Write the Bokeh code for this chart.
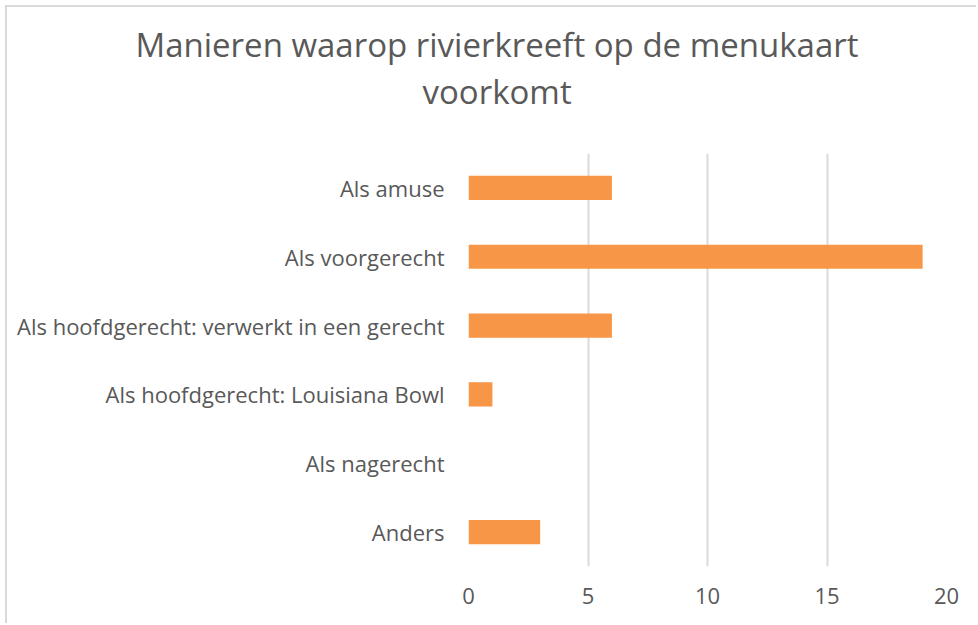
from bokeh.plotting import figure
from bokeh.models import Title, FactorRange, Range1d, FixedTicker
from bokeh.embed import file_html
from bokeh.resources import INLINE

categories = ["Als amuse", "Als voorgerecht", "Als hoofdgerecht: verwerkt in een gerecht",
              "Als hoofdgerecht: Louisiana Bowl", "Als nagerecht", "Anders"]
values = [6, 19, 6, 1, 0, 3]
x_ticks = [0, 5, 10, 15, 20]
title_lines = ["Manieren waarop rivierkreeft op de menukaart", "voorkomt"]

FONT = "Open Sans"
GRAY = "#595959"

p = figure(width=971, height=618, output_backend="svg", toolbar_location=None,
           y_range=FactorRange(factors=list(reversed(categories)), range_padding=0),
           x_range=Range1d(0, 20),
           min_border_left=461, min_border_right=32, min_border_bottom=59, min_border_top=146)
p.styles = {"margin-left": "5px", "margin-top": "5px",
            "border-left": "2px solid #d9d9d9", "border-top": "2px solid #d9d9d9"}

p.hbar(y=categories, right=values, left=0, height=0.35, fill_color="#F79646", line_color=None)

# spacer between the plot area and the title block
p.add_layout(Title(text=" ", text_font_size="1px", standoff=37), "above")
# second line first (closest to the plot), then the first line above it
for txt, off in zip(reversed(title_lines), [-46, -333]):
    p.add_layout(Title(text=txt, align="left", offset=off, text_font=FONT,
                       text_font_size="33px", text_font_style="normal",
                       text_color=GRAY, standoff=0), "above")

p.outline_line_color = None
p.ygrid.grid_line_color = None
p.xgrid.grid_line_color = "#d9d9d9"
p.xgrid.grid_line_width = 2
p.xaxis.ticker = FixedTicker(ticks=x_ticks)

for ax in (p.xaxis, p.yaxis):
    ax.axis_line_color = None
    ax.major_tick_line_color = None
    ax.minor_tick_line_color = None
    ax.major_label_text_font = FONT
    ax.major_label_text_font_size = "22px"
    ax.major_label_text_color = GRAY
p.yaxis.major_label_standoff = 18
p.xaxis.major_label_standoff = 15

open("out.html", "w").write(file_html(p, INLINE))
